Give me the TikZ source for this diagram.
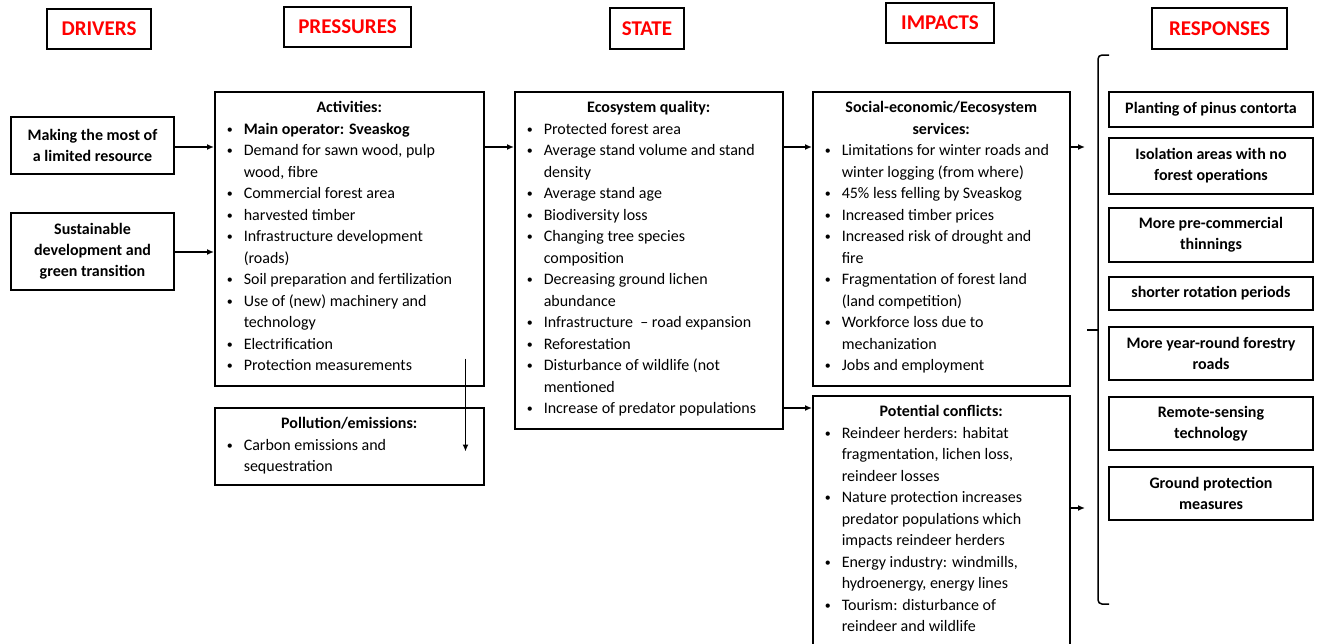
\documentclass[tikz,border=0pt]{standalone}
\usepackage{fontspec}
\setmainfont{Carlito}
\usetikzlibrary{arrows.meta}
\definecolor{headred}{RGB}{255,0,0}

% small list bullet
\newcommand{\smallbullet}{\raisebox{1.2pt}{\fontsize{12}{12}\selectfont\textbullet}}
% bullet item with hanging indent; lines are broken by hand with \\
\newcommand{\itm}[1]{\par\begingroup\let\\\newline
  \hangindent=29pt\hangafter=1\noindent
  \hspace*{12pt}\makebox[17pt][l]{\smallbullet}#1\par\endgroup}
% centred bold heading; the strut puts its baseline 21pt below the frame
\newcommand{\panelhead}[1]{{\centering\bfseries\rule{0pt}{21pt}#1\par}}
% fixed-size, top-aligned text block for the list panels
\newcommand{\paneltext}[3]{\parbox[t][#2][t]{#1}{\fontsize{16}{21.5}\selectfont\raggedright #3}}

\begin{document}
\begin{tikzpicture}[x=1pt,y=-1pt,
  hdr/.style={draw, line width=1.5pt, text=headred, inner sep=0pt,
    font=\fontsize{21}{21}\selectfont\bfseries},
  panel/.style={draw, line width=1.5pt, inner sep=0pt, anchor=north west},
  cbox/.style={draw, line width=1.5pt, inner sep=0pt, align=center,
    font=\fontsize{16}{21}\selectfont\bfseries},
  drv/.style={cbox, minimum width=163pt},
  resp/.style={cbox, minimum width=204pt},
  arr/.style={line width=1.5pt, -{Latex[length=7pt,width=6pt]}},
  brk/.style={line width=1.5pt}]
\useasboundingbox (0,0) rectangle (1320,643);
\clip (0,0) rectangle (1320,643);

% column headings
\node[hdr, minimum width=104pt, minimum height=40pt] (hdrivers) at (99,29) {DRIVERS};
\node[hdr, minimum width=127pt, minimum height=40pt] (hpress) at (347.5,27) {PRESSURES};
\node[hdr, minimum width=74pt, minimum height=41pt] (hstate) at (647,28.5) {STATE};
\node[hdr, minimum width=108pt, minimum height=40pt] (himpact) at (940,23) {IMPACTS};
\node[hdr, minimum width=135pt, minimum height=41pt] (hresp) at (1219.5,28.5) {RESPONSES};

% drivers
\node[drv, minimum height=57pt] (d1) at (92.5,145.5) {Making the most of\\a limited resource};
\node[drv, minimum height=77pt] (d2) at (92.5,251.5) {Sustainable\\development and\\green transition};

% pressures
\node[panel] (act) at (214,91) {\paneltext{269pt}{294pt}{%
  \panelhead{Activities:}
  \itm{\textbf{Main operator: Sveaskog}}
  \itm{Demand for sawn wood, pulp\\wood, fibre}
  \itm{Commercial forest area}
  \itm{harvested timber}
  \itm{Infrastructure development\\(roads)}
  \itm{Soil preparation and fertilization}
  \itm{Use of (new) machinery and\\technology}
  \itm{Electrification}
  \itm{Protection measurements}}};

\node[panel] (pol) at (214,407) {\paneltext{269pt}{77pt}{%
  \panelhead{Pollution/emissions:}
  \itm{Carbon emissions and\\sequestration}}};

% state
\node[panel] (eco) at (514,91) {\paneltext{268pt}{337pt}{%
  \panelhead{Ecosystem quality:}
  \itm{Protected forest area}
  \itm{Average stand volume and stand\\density}
  \itm{Average stand age}
  \itm{Biodiversity loss}
  \itm{Changing tree species\\composition}
  \itm{Decreasing ground lichen\\abundance}
  \itm{Infrastructure \ -- road expansion}
  \itm{Reforestation}
  \itm{Disturbance of wildlife (not\\mentioned}
  \itm{Increase of predator populations}}};

% impacts
\node[panel] (soc) at (812,91) {\paneltext{257pt}{294pt}{%
  \panelhead{Social-economic/Eecosystem\\services:}
  \itm{Limitations for winter roads and\\winter logging (from where)}
  \itm{45\% less felling by Sveaskog}
  \itm{Increased timber prices}
  \itm{Increased risk of drought and\\fire}
  \itm{Fragmentation of forest land\\(land competition)}
  \itm{Workforce loss due to\\mechanization}
  \itm{Jobs and employment}}};

\node[panel] (conf) at (812,395) {\paneltext{257pt}{262pt}{%
  \panelhead{Potential conflicts:}
  \itm{Reindeer herders: habitat\\fragmentation, lichen loss,\\reindeer losses}
  \itm{Nature protection increases\\predator populations which\\impacts reindeer herders}
  \itm{Energy industry: windmills,\\hydroenergy, energy lines}
  \itm{Tourism: disturbance of\\reindeer and wildlife}}};

% responses
\node[resp, minimum height=35pt] (r1) at (1211,109.5) {Planting of pinus contorta};
\node[resp, minimum height=56pt] (r2) at (1211,166) {Isolation areas with no\\forest operations};
\node[resp, minimum height=54pt] (r3) at (1211,235) {More pre-commercial\\thinnings};
\node[resp, minimum height=33pt] (r4) at (1211,293.5) {shorter rotation periods};
\node[resp, minimum height=53pt] (r5) at (1211,353.5) {More year-round forestry\\roads};
\node[resp, minimum height=53pt] (r6) at (1211,423.5) {Remote-sensing\\technology};
\node[resp, minimum height=53pt] (r7) at (1211,493.5) {Ground protection\\measures};

% rows for the horizontal connectors
\coordinate (row1) at (0,147);
\coordinate (row2) at (0,252);
\coordinate (row3) at (0,408);

% connectors
\draw[arr] (d1.east |- row1) -- (act.west |- row1);
\draw[arr] (d2.east |- row2) -- (act.west |- row2);
\draw[arr] (act.east |- row1) -- (eco.west |- row1);
\draw[arr] (eco.east |- row1) -- (soc.west |- row1);
\draw[arr] (eco.east |- row3) -- (conf.west |- row3);
\draw[arr] ([xshift=-19pt,yshift=28pt]act.south east) -- ([xshift=-19pt,yshift=34pt]pol.south east);

% bracket gathering the responses
\coordinate (brtop) at (1109,55);
\coordinate (brbot) at (1109,604);
\coordinate (brmid) at (1087,330);
\coordinate (in1) at (1085,147);
\coordinate (in2) at (1085,508);
\draw[brk, rounded corners=4pt] (brtop) -- (1098,55) -- (1098,604) -- (brbot);
\draw[brk] (1098,330) -- (brmid);
\draw[arr] (soc.east |- in1) -- (in1);
\draw[arr] (conf.east |- in2) -- (in2);
\end{tikzpicture}
\end{document}
